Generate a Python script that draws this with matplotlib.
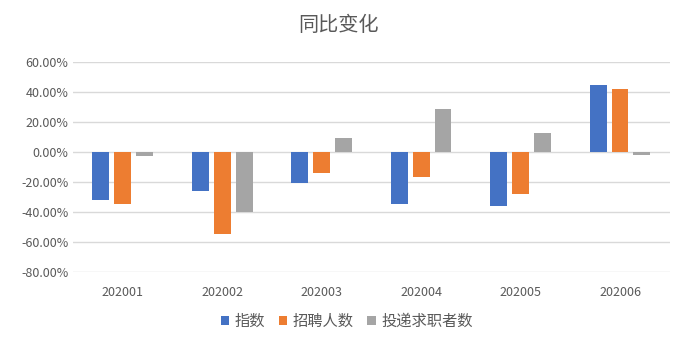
import matplotlib
matplotlib.use('Agg')
import matplotlib.pyplot as plt
import numpy as np
from matplotlib.ticker import FuncFormatter

plt.rcParams['font.family'] = ['Noto Sans CJK SC', 'DejaVu Sans']

months = ['202001', '202002', '202003', '202004', '202005', '202006']
index_chg = [-32.0, -26.0, -21.0, -35.0, -36.0, 45.0]      # 指数
hires_chg = [-35.0, -55.0, -14.0, -17.0, -28.0, 42.0]      # 招聘人数
seekers_chg = [-3.0, -40.0, 9.5, 28.5, 12.5, -2.0]         # 投递求职者数
series_names = ['指数', '招聘人数', '投递求职者数']

colors = ['#4472C4', '#ED7D31', '#A5A5A5']
text_col = '#595959'

fig = plt.figure(figsize=(6.89, 3.45), dpi=100)
ax = fig.add_axes([0.106, 0.212, 0.866, 0.608])

x = np.arange(len(months))
w = 0.17
offsets = [-0.22, 0, 0.22]
for vals, off, c, name in zip([index_chg, hires_chg, seekers_chg], offsets, colors, series_names):
    ax.bar(x + off, vals, width=w, color=c, label=name, zorder=3)

ax.set_xlim(-0.5, len(months) - 0.5)
ax.set_ylim(-80, 60)
ax.set_yticks(np.arange(-80, 61, 20))
ax.yaxis.set_major_formatter(FuncFormatter(lambda v, p: '%.2f%%' % v))
ax.set_xticks(x)
ax.set_xticklabels(months)
ax.grid(axis='y', color='#D9D9D9', linewidth=1, zorder=0)
for s in ax.spines.values():
    s.set_visible(False)
ax.tick_params(length=0, colors=text_col, labelsize=9)
ax.tick_params(axis='x', pad=10)

fig.text(0.491, 0.925, '同比变化', fontsize=14.5, color=text_col, ha='center', va='center')

fig.legend(loc='center', bbox_to_anchor=(0.503, 0.068), ncol=3, frameon=False,
           fontsize=11, labelcolor=text_col, handlelength=0.55, handleheight=0.55,
           handletextpad=0.35, columnspacing=0.9)

plt.savefig('out.png', dpi=100)
